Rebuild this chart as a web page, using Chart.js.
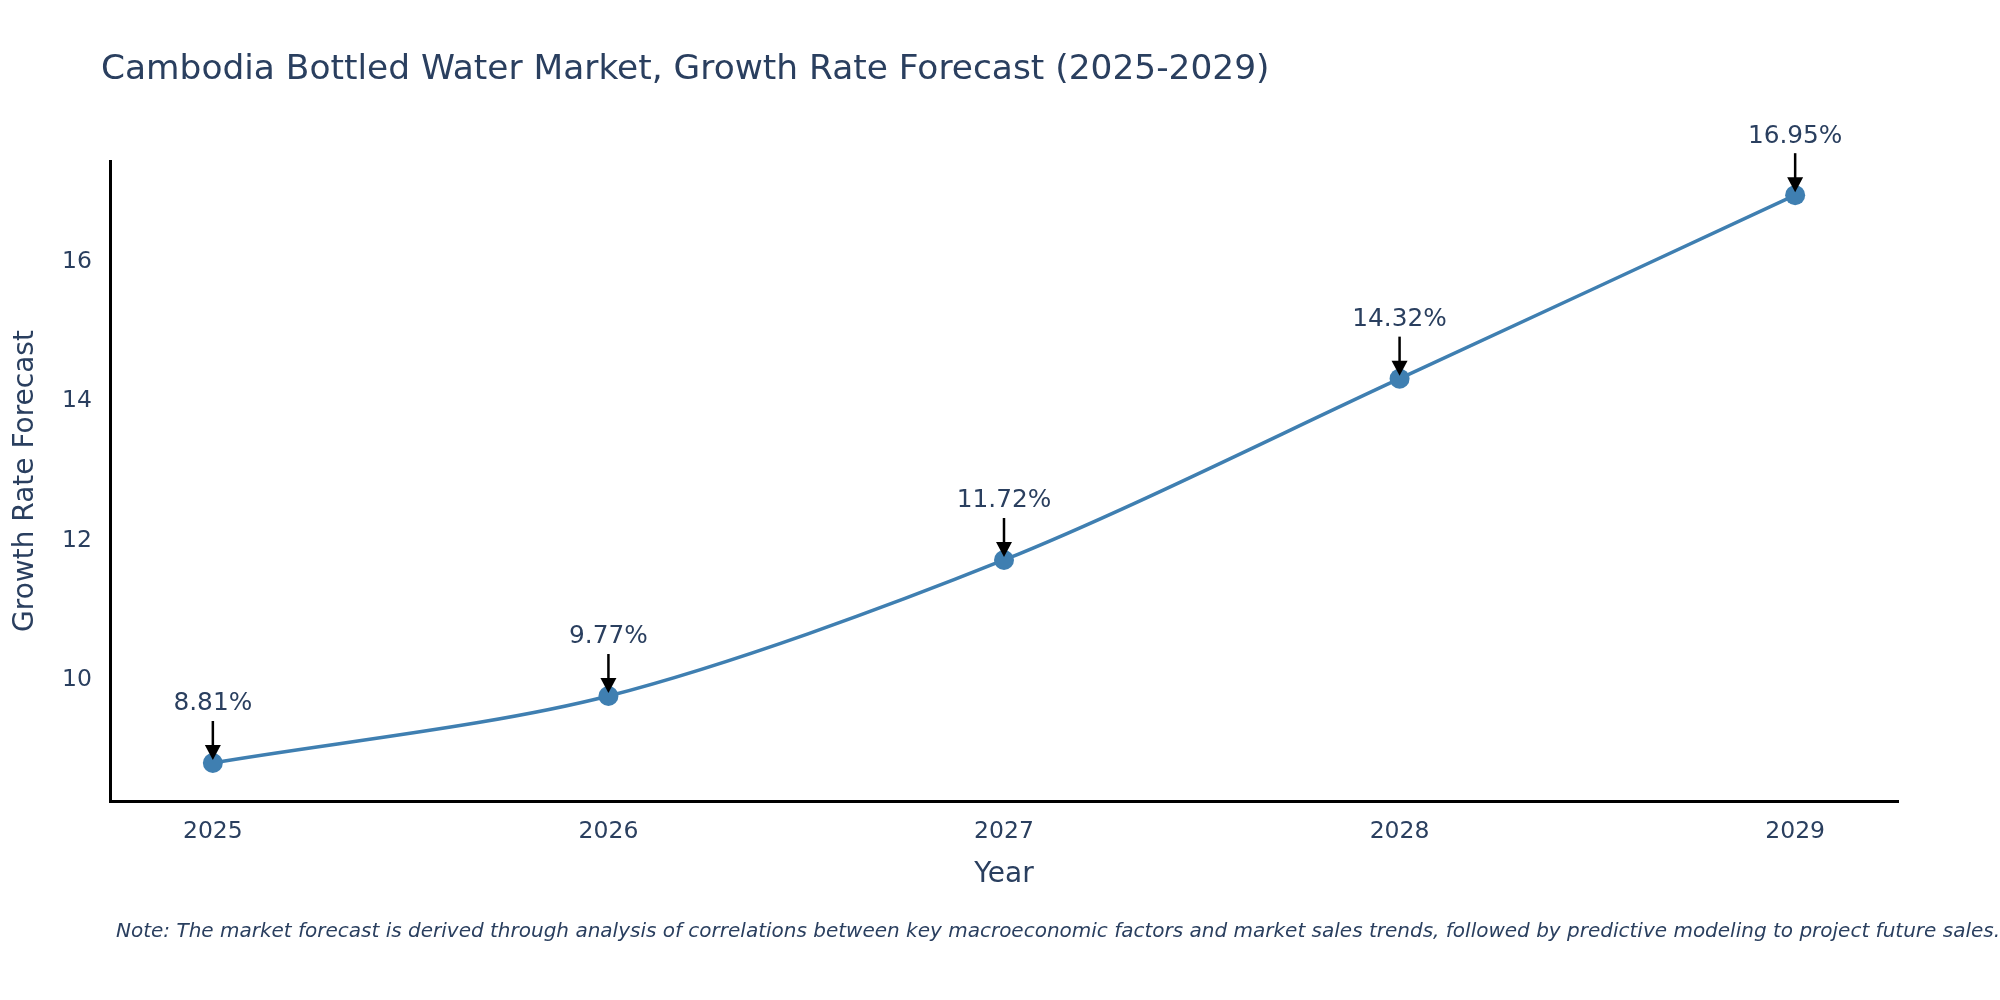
<!DOCTYPE html>
<html>
<head>
<meta charset="utf-8">
<script src="https://cdn.jsdelivr.net/npm/chart.js@4"></script>
<style>
  html, body { margin: 0; padding: 0; background: #fff; }
  #wrap { width: 2000px; height: 1000px; }
</style>
</head>
<body>
<div id="wrap"><canvas id="chart"></canvas></div>
<script>
const years = [2025, 2026, 2027, 2028, 2029];
const growthRate = [8.81, 9.77, 11.72, 14.32, 16.95];
const yTicks = [10, 12, 14, 16];
const labels = ["8.81%", "9.77%", "11.72%", "14.32%", "16.95%"];

const titleText = "Cambodia Bottled Water Market, Growth Rate Forecast (2025-2029)";
const noteText = "Note: The market forecast is derived through analysis of correlations between key macroeconomic factors and market sales trends, followed by predictive modeling to project future sales.";

const FONT = "'DejaVu Sans', Verdana, sans-serif";
const TEXT = "#2a3f5f";
const LINE = "#3f7fb1";

// title, note and arrow annotations
const extras = {
  id: "extras",
  afterDatasetsDraw(chart) {
    const { ctx, scales: { x, y } } = chart;
    ctx.save();
    ctx.fillStyle = TEXT;
    ctx.textBaseline = "alphabetic";
    ctx.textAlign = "left";
    ctx.font = "34.4px " + FONT;
    ctx.fillText(titleText, 101, 79);

    ctx.font = "italic 20px " + FONT;
    ctx.textBaseline = "middle";
    ctx.fillText(noteText, 116, 932);

    years.forEach((yr, i) => {
      const px = x.getPixelForValue(yr);
      const py = y.getPixelForValue(growthRate[i]);
      const tip = py - 3;
      const start = py - 42;
      ctx.strokeStyle = "#000";
      ctx.lineWidth = 2.5;
      ctx.beginPath();
      ctx.moveTo(px, start);
      ctx.lineTo(px, tip - 12);
      ctx.stroke();
      ctx.fillStyle = "#000";
      ctx.beginPath();
      ctx.moveTo(px - 8, tip - 15);
      ctx.lineTo(px + 8, tip - 15);
      ctx.lineTo(px, tip);
      ctx.closePath();
      ctx.fill();
      ctx.fillStyle = TEXT;
      ctx.font = "24.8px " + FONT;
      ctx.textAlign = "center";
      ctx.textBaseline = "middle";
      ctx.fillText(labels[i], px, py - 59);
    });
    ctx.restore();
  }
};

new Chart(document.getElementById("chart"), {
  type: "line",
  data: {
    datasets: [{
      data: years.map((yr, i) => ({ x: yr, y: growthRate[i] })),
      borderColor: LINE,
      backgroundColor: LINE,
      borderWidth: 3.5,
      pointRadius: 10,
      pointBorderWidth: 0,
      pointBackgroundColor: LINE,
      tension: 0.3,
      fill: false
    }]
  },
  options: {
    responsive: true,
    maintainAspectRatio: false,
    animation: false,
    layout: { padding: { top: 161, right: 102, bottom: 100, left: 0 } },
    plugins: { legend: { display: false }, tooltip: { enabled: false } },
    scales: {
      x: {
        type: "linear",
        min: 2024.74,
        max: 2029.26,
        afterBuildTicks: s => { s.ticks = years.map(v => ({ value: v })); },
        afterFit: s => { s.height = 99; },
        grid: { display: false },
        border: { display: true, color: "#000", width: 3 },
        ticks: {
          color: TEXT,
          font: { family: FONT, size: 23.5 },
          padding: 9,
          callback: v => String(v)
        },
        title: {
          display: true,
          text: "Year",
          color: TEXT,
          font: { family: FONT, size: 28 },
          padding: { top: 0, bottom: 8 }
        }
      },
      y: {
        min: 8.265,
        max: 17.44,
        afterBuildTicks: s => { s.ticks = yTicks.map(v => ({ value: v })); },
        afterFit: s => { s.width = 110; },
        grid: { display: false },
        border: { display: true, color: "#000", width: 3 },
        ticks: {
          color: TEXT,
          font: { family: FONT, size: 23.5 },
          padding: 10
        },
        title: {
          display: true,
          text: "Growth Rate Forecast",
          color: TEXT,
          font: { family: FONT, size: 28 },
          padding: { top: 9, bottom: 0 }
        }
      }
    }
  },
  plugins: [extras]
});
</script>
</body>
</html>
